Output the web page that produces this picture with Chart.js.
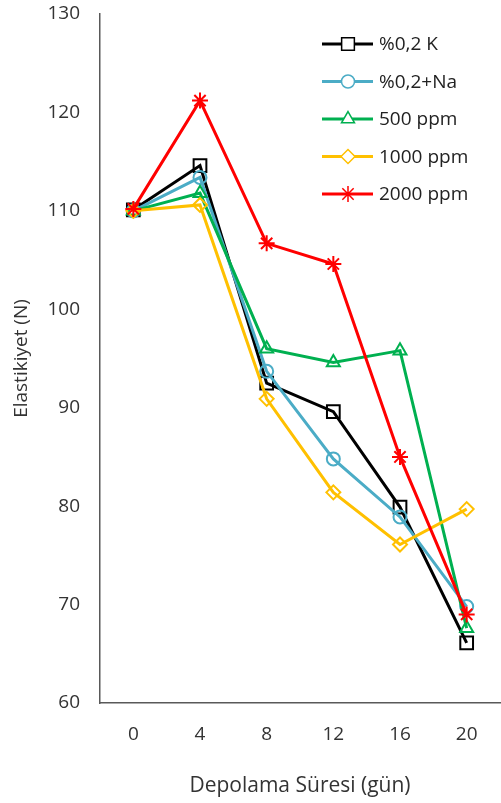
<!DOCTYPE html>
<html><head><meta charset="utf-8">
<script src="https://cdn.jsdelivr.net/npm/chart.js@4/dist/chart.umd.min.js"></script>
<style>html,body{margin:0;padding:0;overflow:hidden;background:#fff}#wrap{width:511px;height:803px}</style>
</head><body><div id="wrap"><canvas id="c" width="511" height="803"></canvas></div>
<script>
const days = ['0','4','8','12','16','20'];
const seriesNames = ['%0,2 K','%0,2+Na','500 ppm','1000 ppm','2000 ppm'];
const k02 = [110.1, 114.6, 92.5, 89.6, 79.9, 66.1];
const na02 = [110.0, 113.4, 93.7, 84.8, 78.9, 69.8];
const ppm500 = [110.0, 111.8, 96.0, 94.6, 95.8, 67.6];
const ppm1000 = [110.0, 110.6, 90.9, 81.4, 76.1, 79.7];
const ppm2000 = [110.2, 121.2, 106.7, 104.6, 85.0, 69.0];
const yTicks = [60, 70, 80, 90, 100, 110, 120, 130];

const colors = ['#000000','#4BACC6','#00B050','#FFC000','#FF0000'];
const styles = ['rect','circle','triangle','rectRot','star'];
const radii = [9, 6.5, 7.5, 7, 8];
const values = [k02, na02, ppm500, ppm1000, ppm2000];
const FONT = '"Open Sans", Lato, sans-serif';
const TXT = '#333333';

const datasets = values.map((v,i)=>({
  label: seriesNames[i], data: v,
  borderColor: colors[i], backgroundColor: 'transparent',
  borderWidth: 3, pointStyle: styles[i], pointRadius: radii[i],
  pointBorderWidth: 2, pointBorderColor: colors[i], pointBackgroundColor: 'transparent',
  tension: 0, order: 5 - i
}));

const legendPlugin = {
  id: 'insideLegend',
  afterDraw(chart) {
    const ctx = chart.ctx;
    ctx.save();
    chart.data.datasets.forEach((ds, i) => {
      const y = 44 + i * 37.5;
      ctx.strokeStyle = ds.borderColor; ctx.lineWidth = 3;
      ctx.beginPath(); ctx.moveTo(322, y); ctx.lineTo(373, y); ctx.stroke();
      ctx.fillStyle = '#fff';
      ctx.strokeStyle = ds.borderColor; ctx.lineWidth = 1.5;
      Chart.helpers.drawPoint(ctx, {pointStyle: ds.pointStyle, radius: ds.pointRadius, rotation: 0, borderWidth: 1.5}, 348, y);
      ctx.fillStyle = '#222'; ctx.font = '19px ' + FONT;
      ctx.textAlign = 'left'; ctx.textBaseline = 'middle';
      ctx.fillText(ds.label, 379, y + 1);
    });
    ctx.restore();
  }
};

new Chart(document.getElementById('c'), {
  type: 'line',
  data: { labels: days, datasets },
  options: {
    responsive: false, animation: false,
    layout: { padding: { top: 14, right: 0, left: 0, bottom: 0 } },
    plugins: { legend: { display: false }, tooltip: { enabled: false } },
    scales: {
      x: {
        offset: true,
        grid: { display: false, drawTicks: false },
        border: { display: true, color: '#595959', width: 1.5 },
        ticks: { color: TXT, font: { family: FONT, size: 19 }, padding: 20 },
        title: { display: true, text: 'Depolama Süresi (gün)', color: TXT, font: { family: FONT, size: 21 }, padding: { top: 14 } },
        afterFit(s) { s.height = 100; s.paddingLeft = 0; s.paddingRight = 0; }
      },
      y: {
        min: 60, max: 130,
        afterBuildTicks(s) { s.ticks = yTicks.map(v => ({ value: v })); },
        grid: { display: false, drawTicks: false },
        border: { display: true, color: '#595959', width: 1.5 },
        ticks: { color: TXT, font: { family: FONT, size: 19 }, padding: 20 },
        title: { display: true, text: 'Elastikiyet (N)', color: TXT, font: { family: FONT, size: 19 }, padding: { top: 10, bottom: 4 } },
        afterFit(s) { s.width = 100; s.paddingTop = 0; s.paddingBottom = 0; }
      }
    }
  },
  plugins: [legendPlugin]
});
</script></body></html>
